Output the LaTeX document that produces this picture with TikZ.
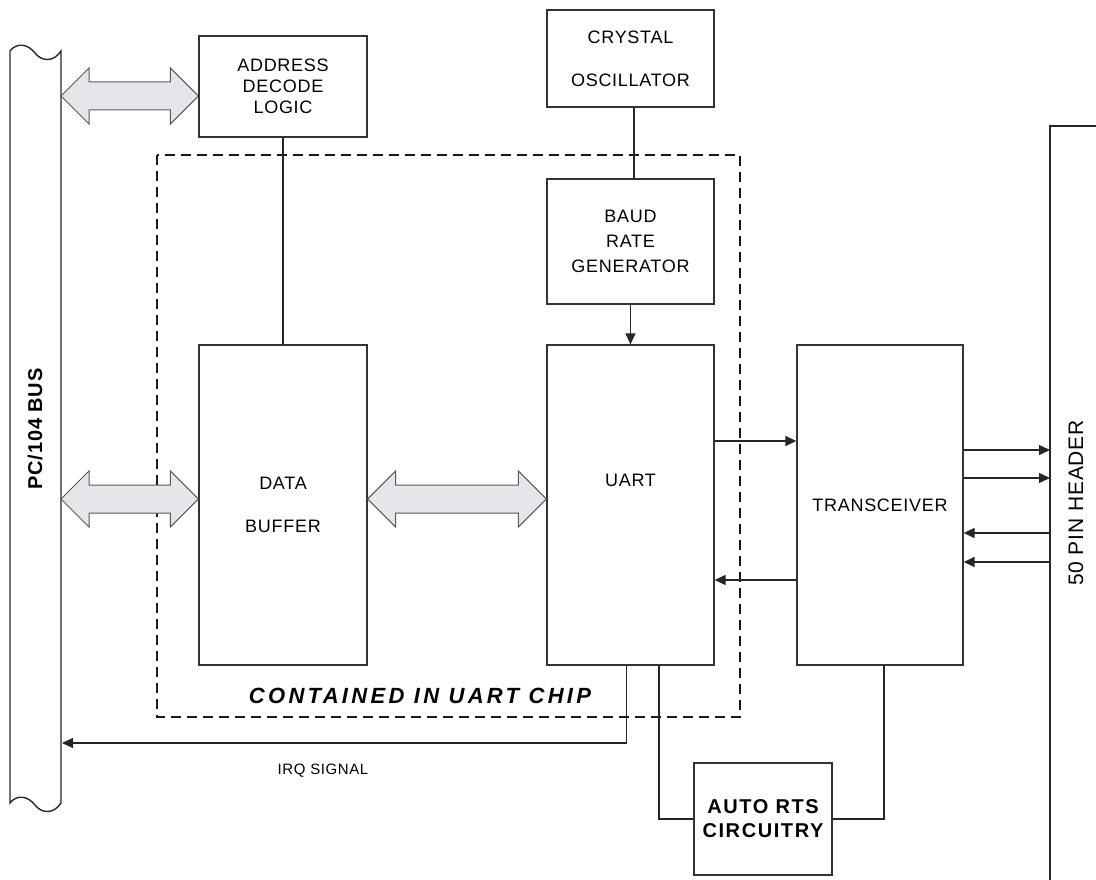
\documentclass[tikz,border=0pt]{standalone}
\usepackage{fontspec}
\setmainfont[LetterSpace=4]{Liberation Sans}
\newfontfamily\chipfont[LetterSpace=15]{Liberation Sans}
\usetikzlibrary{arrows.meta,calc}
\definecolor{busgray}{RGB}{230,230,234}
\tikzset{
        block/.style = {draw=black!80, line width=1.3pt, fill=white, align=center,
            inner sep=0pt, font=\fontsize{18}{21}\selectfont},
        boldblock/.style = {block, font=\fontsize{20}{24}\selectfont\bfseries},
        wire/.style = {draw=black!85, line width=1.4pt},
        chipline/.style = {draw=black!90, line width=2.8pt, dash pattern=on 10pt off 6pt},
        fatfill/.style = {fill=busgray, draw=black!65, line width=1pt}
    }
% fat two-headed bus arrow between two points at the same height
\newcommand\fatarrow[2]{%
  \path[fatfill] let \p1=#1, \p2=#2 in
    (\x1,\y1) -- (\x1+28pt,\y1+28pt) -- (\x1+28pt,\y1+14pt) -- (\x2-28pt,\y1+14pt)
    -- (\x2-28pt,\y1+28pt) -- (\x2,\y1) -- (\x2-28pt,\y1-28pt) -- (\x2-28pt,\y1-14pt)
    -- (\x1+28pt,\y1-14pt) -- (\x1+28pt,\y1-28pt) -- cycle;}
\begin{document}
\begin{tikzpicture}[x=1pt,y=-1pt,>={Triangle[length=11pt,width=10pt]}]
    \useasboundingbox (0,0) rectangle (1096,880);
    % PC/104 bus
    \path[wire] (10,51) .. controls (17,42) and (28,44) .. (35,53)
        .. controls (42,62) and (54,62) .. (61,51) -- (61,803)
        .. controls (54,814) and (42,814) .. (35,805)
        .. controls (28,796) and (17,794) .. (10,803) -- cycle;
    \node[font=\fontsize{20}{24}\selectfont\bfseries, rotate=90] (busname) at (35,429) {PC/104 BUS};
    \coordinate (busaddr) at (61,96);
    \coordinate (busdata) at (61,499);
    \coordinate (busirq) at (62,743);
    % 50 pin header
    \path[wire] (1050,880) -- (1050,126) -- (1096,126);
    \node[font=\fontsize{21}{24}\selectfont, rotate=90] (hdrname) at (1076,503) {50 PIN HEADER};
    \coordinate (hdr1) at (1050,450);
    \coordinate (hdr2) at (1050,478);
    \coordinate (hdr3) at (1050,533);
    \coordinate (hdr4) at (1050,562);
    % uart chip outline
    \path[chipline] (157,155) rectangle (740,717);
    \node[font=\fontsize{22}{24}\chipfont\bfseries\itshape] (chipname) at (420,696) {CONTAINED IN UART CHIP};
    % blocks
    \node[block, minimum width=168, minimum height=101] (addr) at (283,86.5)
        {ADDRESS\\DECODE\\LOGIC};
    \node[block, minimum width=167, minimum height=97] (crystal) at (630.5,58.5)
        {CRYSTAL\\[22pt]OSCILLATOR};
    \node[block, minimum width=167, minimum height=125] (baud) at (630.5,241.5)
        {BAUD\\[4pt]RATE\\[4pt]GENERATOR};
    \node[block, minimum width=168, minimum height=320] (buffer) at (283,505)
        {DATA\\[22pt]BUFFER};
    \node[block, minimum width=167, minimum height=320] (uart) at (630.5,505)
        {\raisebox{50pt}{UART}};
    \node[block, minimum width=166, minimum height=320] (trans) at (880,505)
        {TRANSCEIVER};
    \node[boldblock, minimum width=138, minimum height=112] (rts) at (763,819)
        {\addfontfeature{LetterSpace=8}AUTO RTS\\\addfontfeature{LetterSpace=8}CIRCUITRY};
    % bus arrows
    \fatarrow{(busaddr)}{(addr.west)}
    \fatarrow{(busdata)}{(busdata -| buffer.west)}
    \fatarrow{(busdata -| buffer.east)}{(busdata -| uart.west)}
    % wires
    \draw[wire] (addr.south) -- (buffer.north);
    \draw[wire] ([xshift=3.5]crystal.south) -- ([xshift=3.5]baud.north);
    \draw[wire,->] (baud.south) -- (uart.north);
    \draw[wire,->] ([yshift=64]uart.east) -- ([yshift=64]trans.west);
    \draw[wire,<-] ([yshift=-75]uart.east) -- ([yshift=-75]trans.west);
    \draw[wire,->] (trans.east |- hdr1) -- (hdr1);
    \draw[wire,->] (trans.east |- hdr2) -- (hdr2);
    \draw[wire,<-] (trans.east |- hdr3) -- (hdr3);
    \draw[wire,<-] (trans.east |- hdr4) -- (hdr4);
    \draw[wire,->] ([xshift=-4]uart.south) |- (busirq);
    \node[font=\fontsize{15}{18}\selectfont] (irq) at (323,771) {IRQ SIGNAL};
    \draw[wire] ([xshift=28.5]uart.south) |- (rts.west);
    \draw[wire] (rts.east) -| ([xshift=4]trans.south);
\end{tikzpicture}
\end{document}
